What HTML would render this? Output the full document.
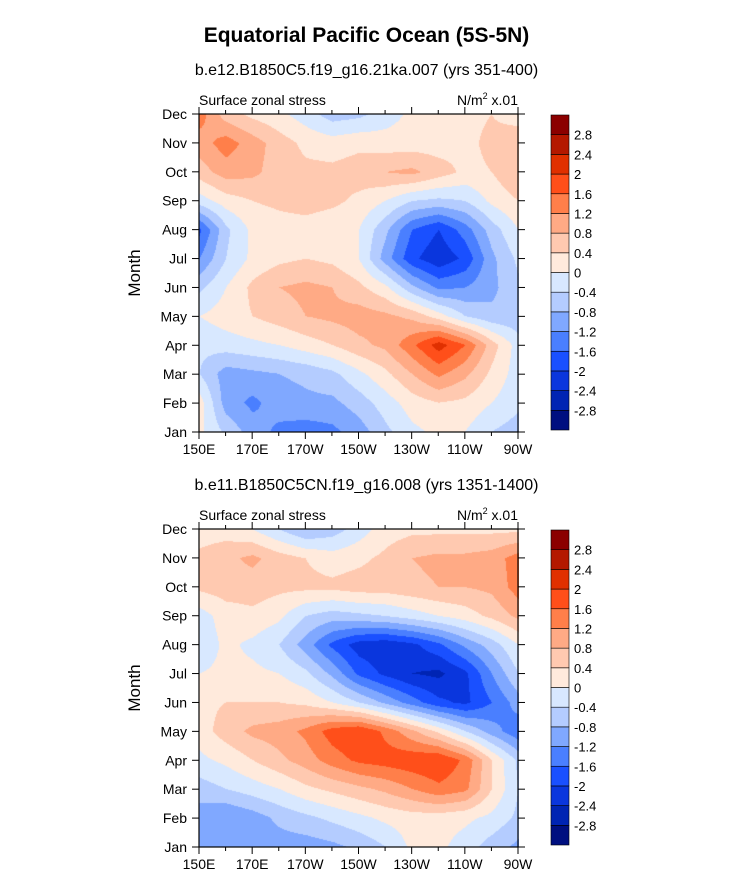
<!DOCTYPE html>
<html><head><meta charset="utf-8">
<style>
body{margin:0;background:#fff;font-family:"Liberation Sans",Arial,sans-serif;}
#root{position:relative;width:733px;height:882px;overflow:hidden;background:#fff;}
.t{position:absolute;white-space:nowrap;color:#000;}
canvas{position:absolute;}
svg{position:absolute;left:0;top:0;}
</style></head>
<body>
<div id="root">
<div class="t" style="left:0;width:733px;text-align:center;top:24px;font-size:21px;font-weight:bold;">Equatorial Pacific Ocean (5S-5N)</div>
<div class="t" style="left:0;width:733px;text-align:center;top:62px;font-size:16px;">b.e12.B1850C5.f19_g16.21ka.007 (yrs 351-400)</div>
<div class="t" style="left:0;width:733px;text-align:center;top:477px;font-size:16px;">b.e11.B1850C5CN.f19_g16.008 (yrs 1351-1400)</div>
<canvas id="c1" width="320" height="318" style="left:199px;top:114px"></canvas>
<canvas id="c2" width="320" height="318" style="left:199px;top:529px"></canvas>
<svg id="ov" width="733" height="882"></svg>
</div>
<script>
const lons=[150,160,170,180,190,200,210,220,230,240,250,260,270];
const months=["Jan","Feb","Mar","Apr","May","Jun","Jul","Aug","Sep","Oct","Nov","Dec"];
const xTickLabels=["150E","170E","170W","150W","130W","110W","90W"];
const xTickLons=[150,170,190,210,230,250,270];
const levels=[-2.8,-2.4,-2,-1.6,-1.2,-0.8,-0.4,0,0.4,0.8,1.2,1.6,2,2.4,2.8];
const levelColors=["#000f80","#0024b3","#0a36dd","#1a50ff","#4a7fff","#80a8ff","#b4ccff","#d8e8ff","#ffeadc","#ffc9b0","#ffaa85","#ff7f4a","#ff4f1a","#e03000","#b41800","#8b0000"];
// panel 1 values, rows Jan..Dec, columns lons
const panel1=[
[0.1,-0.5,-1.0,-1.3,-1.4,-1.3,-1.0,-0.5,-0.1,0.1,0.0,-0.4,-0.6],
[0.2,-1.0,-1.3,-1.0,-0.9,-0.9,-0.6,-0.2,0.2,0.4,0.3,0.0,-0.3],
[-0.4,-1.0,-0.9,-0.8,-0.7,-0.5,-0.1,0.3,0.8,1.3,0.9,0.3,-0.2],
[-0.3,-0.2,-0.1,0.0,0.2,0.4,0.7,0.9,1.5,2.2,1.6,0.6,-0.2],
[0.0,0.2,0.4,0.6,0.8,0.9,1.0,0.9,0.7,0.2,-0.4,-0.7,-0.7],
[-0.5,0.0,0.5,0.8,0.9,0.8,0.5,0.1,-0.7,-1.3,-1.2,-0.9,-0.5],
[-1.2,-0.4,0.1,0.3,0.4,0.3,0.0,-1.0,-1.9,-2.3,-1.9,-0.9,-0.3],
[-1.7,-0.5,0.1,0.2,0.2,0.1,0.0,-0.7,-1.6,-2.0,-1.4,-0.6,0.0],
[-0.2,0.2,0.4,0.5,0.6,0.5,0.3,0.0,-0.4,-0.5,-0.4,0.1,0.4],
[0.6,1.0,0.9,0.6,0.5,0.5,0.6,0.8,0.9,0.6,0.3,0.4,0.8],
[1.0,1.4,1.0,0.6,0.3,0.2,0.3,0.2,0.2,0.2,0.3,0.5,0.7],
[1.4,0.6,0.3,0.1,-0.2,-0.6,-0.5,-0.2,0.1,0.2,0.3,0.4,0.2]
];
const panel2=[
[-0.8,-1.0,-1.0,-1.0,-1.0,-0.9,-0.7,-0.4,0.1,0.1,-0.2,-0.6,-0.9],
[-1.0,-1.2,-1.0,-0.7,-0.5,-0.3,-0.1,0.1,0.2,0.2,0.1,-0.1,-0.5],
[-0.6,-0.4,-0.2,0.0,0.3,0.5,0.7,0.9,1.2,1.5,1.3,0.4,-0.4],
[-0.1,0.1,0.4,0.7,1.0,1.4,1.7,1.8,1.9,2.0,1.5,0.4,-0.5],
[0.2,0.6,0.9,1.0,1.3,1.8,2.0,1.5,0.9,0.3,-0.4,-1.0,-1.5],
[0.3,0.4,0.4,0.4,0.3,0.0,-0.4,-0.9,-1.4,-1.9,-2.1,-1.6,-1.0],
[0.0,0.1,0.1,0.0,-0.3,-0.9,-1.7,-2.1,-2.4,-2.5,-2.1,-1.2,-0.4],
[-0.3,0.1,-0.1,-0.4,-1.0,-1.7,-2.2,-2.3,-2.1,-1.7,-1.1,-0.6,0.0],
[-0.2,0.2,0.3,0.1,-0.4,-0.6,-0.5,-0.4,-0.2,0.0,0.2,0.5,0.9],
[0.5,0.6,0.6,0.5,0.5,0.5,0.6,0.6,0.7,0.8,0.8,0.9,1.4],
[0.5,0.7,0.9,0.6,0.4,0.2,0.3,0.5,0.8,0.9,0.9,1.0,1.4],
[0.2,0.2,0.0,-0.4,-0.8,-0.6,-0.2,0.2,0.3,0.3,0.3,0.3,0.3]
];

function colorIdx(v){let i=0;while(i<levels.length&&v>=levels[i])i++;return i;}
function hex(c){return [parseInt(c.substr(1,2),16),parseInt(c.substr(3,2),16),parseInt(c.substr(5,2),16)];}
const rgb=levelColors.map(hex);
function drawPanel(id,data){
  const cv=document.getElementById(id),ctx=cv.getContext('2d');
  const W=cv.width,H=cv.height,img=ctx.createImageData(W,H);
  const nx=lons.length-1,ny=months.length-1;
  for(let py=0;py<H;py++){
    const fy=(H-1-py)/(H-1)*ny;const j=Math.min(Math.floor(fy),ny-1),ty=fy-j;
    for(let px=0;px<W;px++){
      const fx=px/(W-1)*nx;const i=Math.min(Math.floor(fx),nx-1),tx=fx-i;
      const v=(data[j][i]*(1-tx)+data[j][i+1]*tx)*(1-ty)+(data[j+1][i]*(1-tx)+data[j+1][i+1]*tx)*ty;
      const c=rgb[colorIdx(v)],k=(py*W+px)*4;
      img.data[k]=c[0];img.data[k+1]=c[1];img.data[k+2]=c[2];img.data[k+3]=255;
    }
  }
  ctx.putImageData(img,0,0);
}
drawPanel('c1',panel1);drawPanel('c2',panel2);

const ov=document.getElementById('ov');const NS='http://www.w3.org/2000/svg';
function mk(tag,attrs,name){const e=document.createElementNS(NS,tag);for(const k in attrs)e.setAttribute(k,attrs[k]);
  
  
  ov.appendChild(e);return e;}
function axes(top,p){
  const L=199,R=518,B=top+318;
  const xs=l=>L+(l-150)/120*(R-L);
  const ys=m=>B-m/11*(B-top);
  mk('rect',{x:L,y:top,width:R-L,height:B-top,fill:'none',stroke:'#000','stroke-width':1.2},p+'-frame');
  for(let l=150;l<=270;l+=10){const maj=(l-150)%20===0,len=maj?7:4,x=xs(l);
    mk('line',{x1:x,x2:x,y1:B,y2:B+len,stroke:'#000','stroke-width':1},p+'-x-tick');
    mk('line',{x1:x,x2:x,y1:top,y2:top-len,stroke:'#000','stroke-width':1},p+'-x-tick-top');}
  xTickLons.forEach((l,i)=>{const t=mk('text',{x:xs(l),y:B+22,'text-anchor':'middle','font-size':14,'font-family':'Liberation Sans, sans-serif'},p+'-x-tick-label');t.textContent=xTickLabels[i];});
  months.forEach((m,i)=>{const y=ys(i);
    mk('line',{x1:L-7,x2:L,y1:y,y2:y,stroke:'#000','stroke-width':1},p+'-y-tick');
    mk('line',{x1:R,x2:R+7,y1:y,y2:y,stroke:'#000','stroke-width':1},p+'-y-tick-right');
    const t=mk('text',{x:L-12,y:y+5,'text-anchor':'end','font-size':14,'font-family':'Liberation Sans, sans-serif'},p+'-y-tick-label');t.textContent=m;});
  const yt=mk('text',{x:0,y:0,'text-anchor':'middle','font-size':17,'font-family':'Liberation Sans, sans-serif',transform:`translate(140,${(top+B)/2}) rotate(-90)`},p+'-y-axis-title');yt.textContent='Month';
  const lt=mk('text',{x:L,y:top-9,'font-size':14,'font-family':'Liberation Sans, sans-serif'},p+'-left-string');lt.textContent='Surface zonal stress';
  const rt=mk('text',{x:R,y:top-9,'text-anchor':'end','font-size':14,'font-family':'Liberation Sans, sans-serif'},p+'-units');
  rt.innerHTML='N/m<tspan dy="-6" font-size="9">2</tspan><tspan dy="6"> x.01</tspan>';
  const cx=551,cw=18,ct=top+1,ch=315,bh=ch/levelColors.length;
  for(let k=0;k<levelColors.length;k++){const y=ct+ch-(k+1)*bh;
    mk('rect',{x:cx,y:y,width:cw,height:bh,fill:levelColors[k],stroke:'#000','stroke-width':0.6},p+'-colorbar-box');}
  levels.forEach((lv,k)=>{const y=ct+ch-(k+1)*bh;
    const t=mk('text',{x:cx+cw+5,y:y+5,'font-size':13,'font-family':'Liberation Sans, sans-serif'},p+'-colorbar-label');t.textContent=String(lv);});
}
axes(114,'panel1');axes(529,'panel2');
</script>
</body></html>
